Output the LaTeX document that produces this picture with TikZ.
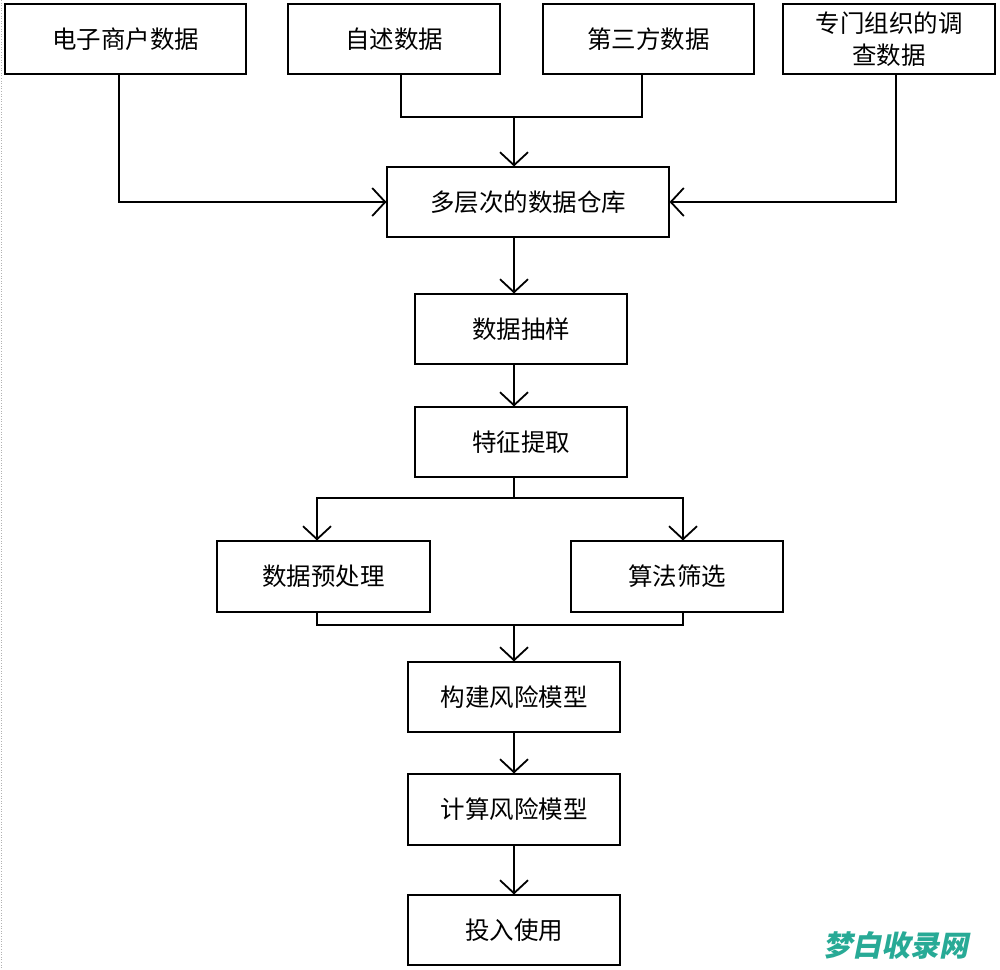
\documentclass[tikz,border=0pt]{standalone}
\usepackage{fontspec}
\setmainfont{Noto Sans CJK SC}
\newfontfamily\wmfont[FakeSlant=0.2]{Noto Sans CJK SC}
\usetikzlibrary{arrows.meta}
\definecolor{wmteal}{RGB}{40,170,150}
\tikzset{
  box/.style={draw=black, line width=1.1pt, minimum width=212pt, minimum height=70pt,
    inner sep=2pt, align=center, font=\fontsize{24.5}{32}\selectfont},
  link/.style={draw=black, line width=1.1pt},
  arr/.style={link, -{Straight Barb[length=13pt,width=28pt,line width=1.8pt]}}
}
\begin{document}
\begin{tikzpicture}[x=1pt,y=-1pt]
\useasboundingbox (0,0) rectangle (1000,969);
\fill[white] (0,0) rectangle (1000,969);
\draw[gray!60, line width=0.6pt, dotted] (1,0) -- (1,969);

% top row
\node[box, minimum width=241pt] (A) at (125.5,39) {电子商户数据};
\node[box] (B) at (394,39) {自述数据};
\node[box, minimum width=211pt] (C) at (648.5,39) {第三方数据};
\node[box] (D) at (889,39) {专门组织的调\\查数据};

\node[box, minimum width=282pt] (E) at (528,202) {多层次的数据仓库};
\node[box] (F) at (521,329) {数据抽样};
\node[box] (G) at (521,442) {特征提取};
\node[box, minimum width=213pt, minimum height=71pt] (P) at (323.5,576.5) {数据预处理};
\node[box, minimum height=71pt] (Q) at (677,576.5) {算法筛选};
\node[box] (H) at (514,697) {构建风险模型};
\node[box, minimum height=71pt] (I) at (514,809.5) {计算风险模型};
\node[box] (J) at (514,930) {投入使用};

% helper coordinates
\coordinate (a1) at (119,0);
\coordinate (b1) at (401,0);
\coordinate (c1) at (642,0);
\coordinate (d1) at (896,0);
\coordinate (spine) at (514,0);
\coordinate (j1) at (514,117);
\coordinate (br) at (514,498);
\coordinate (mg) at (514,625);
\coordinate (pl) at (317,0);
\coordinate (pr) at (683,0);

% connectors
\draw[arr] (A.south -| a1) |- (E.west);
\draw[arr] (D.south -| d1) |- (E.east);
\draw[link] (B.south -| b1) |- (j1);
\draw[link] (C.south -| c1) |- (j1);
\draw[arr] (j1) -- (E.north -| j1);
\draw[arr] (E.south -| spine) -- (F.north -| spine);
\draw[arr] (F.south -| spine) -- (G.north -| spine);
\draw[link] (G.south -| spine) -- (br);
\draw[arr] (br) -| (P.north -| pl);
\draw[arr] (br) -| (Q.north -| pr);
\draw[link] (P.south -| pl) |- (mg);
\draw[link] (Q.south -| pr) |- (mg);
\draw[arr] (mg) -- (H.north);
\draw[arr] (H.south) -- (I.north);
\draw[arr] (I.south) -- (J.north);

% watermark
\node[text=wmteal, font=\wmfont\bfseries\fontsize{29}{30}\selectfont, inner sep=0pt] (wm) at (896,945) {梦白收录网};
\end{tikzpicture}
\end{document}
